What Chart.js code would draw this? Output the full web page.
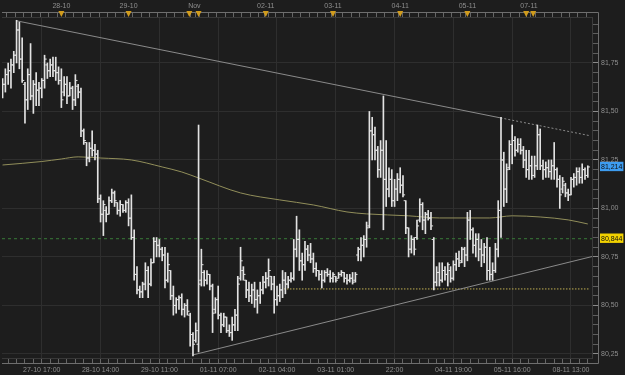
<!DOCTYPE html>
<html>
<head>
<meta charset="utf-8">
<script src="https://cdn.jsdelivr.net/npm/chart.js@4/dist/chart.umd.min.js"></script>
<style>
  html,body{margin:0;padding:0;background:#1d1d1d;}
  canvas{display:block;background:#1d1d1d;}
</style>
</head>
<body>
<canvas id="c" width="625" height="375"></canvas>
<script>
// ---- hourly OHLC bars (index = hour number from the left edge) ----
const highs = [
81.67,81.72,81.75,81.77,81.81,81.97,81.96,81.88,81.65,81.72,
81.85,81.66,81.70,81.65,81.67,81.79,81.75,81.77,81.78,81.78,
81.73,81.72,81.68,81.68,81.65,81.63,81.69,81.64,81.62,81.41,
81.34,81.34,81.40,81.33,81.30,81.07,81.04,81.01,81.06,81.10,
81.09,81.03,81.04,81.02,81.04,81.05,81.07,80.89,80.70,80.60,
80.62,80.72,80.70,80.74,80.85,80.85,80.84,80.80,80.80,80.77,
80.68,80.60,80.54,80.55,80.56,80.51,80.53,80.46,80.36,80.41,
81.43,80.79,80.68,80.68,80.66,80.61,80.54,80.60,80.46,80.46,
80.44,80.40,80.44,80.48,80.65,80.80,80.70,80.63,80.62,80.61,
80.62,80.58,80.62,80.65,80.67,80.74,80.65,80.65,80.60,80.61,
80.68,80.67,80.65,80.67,80.84,80.96,80.89,80.77,80.83,80.81,
80.82,80.77,80.72,80.68,80.68,80.68,80.69,80.68,80.67,80.65,
80.67,80.68,80.67,80.66,80.66,80.67,80.67,80.80,80.85,80.86,
80.93,81.50,81.47,81.42,81.32,81.35,81.58,81.35,81.21,81.20,
81.15,81.18,81.21,81.17,81.04,80.90,80.86,80.85,80.94,81.05,
81.03,80.98,80.99,80.98,80.85,80.70,80.72,80.72,80.70,80.72,
80.70,80.73,80.77,80.78,80.80,80.80,80.98,80.99,80.90,80.87,
80.87,80.84,80.82,80.85,80.80,80.72,80.82,81.04,81.47,81.29,
81.23,81.35,81.43,81.37,81.36,81.36,81.32,81.30,81.30,81.27,
81.27,81.43,81.41,81.25,81.24,81.25,81.25,81.34,81.21,81.17,
81.16,81.13,81.10,81.16,81.18,81.21,81.21,81.23,81.21,81.22];
const lows = [
81.57,81.60,81.64,81.62,81.70,81.75,81.72,81.65,81.44,81.51,
81.56,81.49,81.53,81.53,81.57,81.62,81.67,81.68,81.68,81.66,
81.64,81.52,81.58,81.54,81.58,81.51,81.53,81.57,81.37,81.33,
81.22,81.24,81.27,81.25,81.03,80.93,80.86,80.93,80.97,81.03,
81.01,80.97,80.96,80.98,80.98,80.91,80.84,80.63,80.56,80.54,
80.54,80.58,80.54,80.60,80.72,80.75,80.75,80.73,80.59,80.62,
80.53,80.45,80.46,80.48,80.45,80.44,80.45,80.29,80.24,80.31,
80.26,80.60,80.60,80.61,80.58,80.36,80.46,80.43,80.36,80.39,
80.36,80.34,80.32,80.37,80.37,80.63,80.63,80.54,80.52,80.51,
80.49,80.46,80.51,80.56,80.59,80.60,80.58,80.46,80.50,80.52,
80.54,80.56,80.59,80.62,80.63,80.75,80.68,80.63,80.68,80.73,
80.72,80.67,80.65,80.63,80.59,80.62,80.65,80.62,80.62,80.62,
80.64,80.65,80.62,80.61,80.62,80.61,80.62,80.73,80.73,80.75,
80.80,80.90,81.25,81.25,81.16,81.16,80.89,81.01,81.06,81.01,
81.01,81.04,81.08,81.06,80.87,80.75,80.77,80.76,80.84,80.93,
80.89,80.87,80.94,80.89,80.58,80.60,80.60,80.62,80.63,80.60,
80.62,80.63,80.68,80.70,80.72,80.70,80.73,80.84,80.77,80.75,
80.73,80.70,80.72,80.63,80.63,80.63,80.67,80.75,80.85,81.01,
81.03,81.20,81.23,81.27,81.29,81.28,81.21,81.16,81.15,81.15,
81.16,81.20,81.20,81.15,81.16,81.16,81.15,81.15,81.11,81.00,
81.08,81.06,81.04,81.07,81.11,81.12,81.13,81.13,81.15,81.16];
const opens = [
81.58,81.64,81.69,81.71,81.74,81.79,81.92,81.77,81.64,81.56,
81.69,81.58,81.64,81.61,81.62,81.66,81.74,81.71,81.74,81.71,
81.70,81.66,81.60,81.64,81.58,81.62,81.56,81.63,81.60,81.40,
81.34,81.26,81.31,81.30,81.28,81.05,80.97,80.99,80.97,81.04,
81.08,81.03,80.99,81.02,80.99,81.03,80.95,80.85,80.66,80.58,
80.57,80.61,80.68,80.61,80.72,80.83,80.81,80.79,80.76,80.63,
80.68,80.55,80.50,80.53,80.54,80.48,80.50,80.45,80.35,80.32,
80.30,80.63,80.67,80.63,80.66,80.60,80.48,80.53,80.45,80.40,
80.44,80.37,80.36,80.40,80.45,80.64,80.68,80.63,80.58,80.55,
80.58,80.53,80.55,80.58,80.62,80.64,80.65,80.61,80.53,80.55,
80.58,80.63,80.61,80.63,80.64,80.79,80.84,80.73,80.71,80.79,
80.76,80.74,80.69,80.68,80.66,80.63,80.67,80.66,80.64,80.65,
80.64,80.66,80.67,80.64,80.63,80.64,80.63,80.76,80.79,80.81,
80.84,80.91,81.40,81.38,81.30,81.20,81.30,81.15,81.10,81.15,
81.04,81.10,81.15,81.12,81.04,80.90,80.79,80.84,80.85,80.94,
81.02,80.94,80.97,80.95,80.84,80.62,80.67,80.63,80.68,80.66,
80.68,80.64,80.71,80.74,80.73,80.79,80.76,80.94,80.89,80.81,
80.84,80.79,80.76,80.80,80.68,80.66,80.68,80.79,80.99,81.25,
81.10,81.21,81.33,81.35,81.30,81.33,81.30,81.25,81.20,81.22,
81.17,81.22,81.38,81.22,81.20,81.21,81.19,81.22,81.20,81.15,
81.10,81.12,81.08,81.07,81.15,81.16,81.19,81.16,81.20,81.17];
const closes = [
81.64,81.69,81.71,81.74,81.79,81.92,81.77,81.66,81.56,81.69,
81.58,81.64,81.61,81.62,81.66,81.77,81.71,81.74,81.71,81.70,
81.66,81.56,81.64,81.58,81.62,81.56,81.66,81.60,81.40,81.35,
81.26,81.31,81.30,81.28,81.05,80.97,81.02,80.97,81.04,81.08,
81.04,80.99,81.02,80.99,81.03,80.95,80.85,80.66,80.58,80.57,
80.61,80.68,80.61,80.72,80.83,80.81,80.79,80.76,80.63,80.71,
80.55,80.50,80.53,80.54,80.48,80.50,80.47,80.35,80.30,80.37,
80.61,80.71,80.63,80.66,80.60,80.46,80.53,80.45,80.40,80.44,
80.37,80.36,80.40,80.45,80.61,80.73,80.66,80.58,80.55,80.58,
80.53,80.55,80.58,80.62,80.64,80.68,80.61,80.53,80.55,80.58,
80.63,80.61,80.63,80.64,80.79,80.84,80.73,80.71,80.79,80.76,
80.74,80.69,80.68,80.66,80.63,80.67,80.66,80.64,80.66,80.63,
80.66,80.67,80.64,80.63,80.64,80.62,80.66,80.79,80.81,80.84,
80.90,81.40,81.38,81.30,81.20,81.30,81.15,81.10,81.15,81.04,
81.10,81.15,81.12,81.07,80.90,80.79,80.84,80.79,80.91,81.02,
80.94,80.97,80.95,80.91,80.62,80.67,80.63,80.68,80.66,80.71,
80.64,80.71,80.74,80.72,80.79,80.76,80.94,80.89,80.81,80.84,
80.79,80.76,80.80,80.68,80.66,80.68,80.79,80.99,81.25,81.10,
81.20,81.33,81.35,81.30,81.33,81.30,81.25,81.20,81.22,81.17,
81.22,81.38,81.22,81.20,81.21,81.19,81.22,81.20,81.15,81.07,
81.14,81.08,81.07,81.15,81.16,81.19,81.16,81.20,81.17,81.214];

// ---- moving average (read at sample bars) ----
const maIdx = [0,14,21,27,35,46,57,64,70,85,99,111,123,130,145,156,174,182,192,202,209];
const maVal = [81.224,81.242,81.255,81.266,81.260,81.250,81.214,81.188,81.157,81.080,81.044,81.018,80.982,80.972,80.962,80.951,80.951,80.962,80.956,80.941,80.920];

// ---- drawn objects ----
const trendDown = [[5.1,81.967],[177.8,81.467],[209.8,81.375]];
const trendUp = [[68,80.245],[210.5,80.752]];
const supportDotted = [[100.5,80.585],[209.8,80.585]];
const levelPrice = 80.844;
const lastPrice = 81.214;

// ---- axes ----
const bottomLabelIdx = [14,35,56,77,98,119,140,161,182,203];
const bottomLabels = ['27-10 17:00','28-10 14:00','29-10 11:00','01-11 07:00','02-11 04:00','03-11 01:00','22:00','04-11 19:00','05-11 16:00','08-11 13:00'];
const topLabelIdx = [21,45,68.5,94,118,142,166,188];
const topLabels = ['28-10','29-10','Nov','02-11','03-11','04-11','05-11','07-11'];
const markerIdx = [21,45,66.7,70,94,118,142,166,187,189.5];

const X_MIN = -0.2, X_MAX = 210.5, Y_MIN = 80.229, Y_MAX = 81.987;

const bottomTicks = [];
for (let i = 2; i <= 209; i += 3) bottomTicks.push(i);
const topTicksSet = new Set();
for (let i = 0; i <= 210; i += 3) topTicksSet.add(i);
topLabelIdx.forEach(v => topTicksSet.add(v));
const topTicks = [...topTicksSet].sort((a,b)=>a-b);
const yTicks = [];
for (let k = 0; k <= 34; k++) yTicks.push(+(80.25 + k*0.05).toFixed(2));
yTicks.push(levelPrice, lastPrice);
yTicks.sort((a,b)=>a-b);

const isMajorY = v => Math.abs(v*4 - Math.round(v*4)) < 1e-6;
const isSpecial = v => Math.abs(v-levelPrice) < 1e-6 || Math.abs(v-lastPrice) < 1e-6;

const FONT = {family:'Liberation Sans', size:7};
const TXT = '#8e8e8e';
const BARCOL = '#e2e2e2';
const RULER = '#6e6e6e';

// rulers around the plot and the orange day-separator markers on the top ruler
const rulerPlugin = {
  id:'ruler',
  afterDraw(chart){
    const {ctx, chartArea:ca, scales} = chart;
    const topY = Math.round(scales.x2.bottom - 5) + 0.5;
    const botY = Math.round(scales.x.top + 5) + 0.5;
    const rightX = Math.round(scales.y.left + 6) + 0.5;
    ctx.save();
    ctx.strokeStyle = RULER; ctx.lineWidth = 1;
    ctx.beginPath();
    ctx.moveTo(ca.left, topY); ctx.lineTo(rightX, topY);
    ctx.lineTo(rightX, botY); ctx.lineTo(ca.left, botY);
    ctx.stroke();
    ctx.fillStyle = '#d19c1d';
    markerIdx.forEach(v => {
      const px = scales.x2.getPixelForValue(v);
      ctx.beginPath();
      ctx.moveTo(px - 3, topY - 1.5);
      ctx.lineTo(px + 3, topY - 1.5);
      ctx.lineTo(px, topY + 4.5);
      ctx.closePath();
      ctx.fill();
    });
    ctx.restore();
  }
};

const toPts = arr => arr.map(p => ({x:p[0], y:p[1]}));

new Chart(document.getElementById('c'), {
  type: 'bar',
  data: {
    datasets: [
      {type:'bar', data: highs.map((h,i)=>({x:i, y:[lows[i], h]})), backgroundColor: BARCOL, barThickness: 1, grouped:false, order:0},
      {type:'line', data: opens.map((v,i)=>({x:i-0.4, y:v})), showLine:false, pointStyle:'line', pointRadius:1, pointBorderWidth:1, pointBorderColor:BARCOL, pointHoverRadius:0, order:0},
      {type:'line', data: closes.map((v,i)=>({x:i+0.4, y:v})), showLine:false, pointStyle:'line', pointRadius:1, pointBorderWidth:1, pointBorderColor:BARCOL, pointHoverRadius:0, order:0},
      {type:'line', data: maIdx.map((x,k)=>({x, y:maVal[k]})), borderColor:'#918e5a', borderWidth:1, pointRadius:0, cubicInterpolationMode:'monotone', order:5},
      {type:'line', data: toPts(trendDown), borderColor:'#8a8a8a', borderWidth:1, pointRadius:0,
        segment:{borderDash: ctx => ctx.p0DataIndex === 1 ? [2,2] : undefined}, order:4},
      {type:'line', data: toPts(trendUp), borderColor:'#8a8a8a', borderWidth:1, pointRadius:0, order:4},
      {type:'line', data: toPts(supportDotted), borderColor:'#bfae50', borderWidth:1, borderDash:[1.5,1.5], pointRadius:0, order:4},
      {type:'line', data: [{x:X_MIN, y:levelPrice},{x:X_MAX, y:levelPrice}], borderColor:'#387a38', borderWidth:1, borderDash:[3,3], pointRadius:0, order:6}
    ]
  },
  options: {
    responsive:false, maintainAspectRatio:false, animation:false, devicePixelRatio:1,
    events: [],
    layout:{padding:0},
    plugins:{legend:{display:false}, tooltip:{enabled:false}},
    scales:{
      x:{
        type:'linear', position:'bottom', min:X_MIN, max:X_MAX, offset:false,
        afterBuildTicks: s => { s.ticks = bottomTicks.map(v=>({value:v})); },
        afterFit: s => { s.height = 17; },
        ticks:{autoSkip:false, maxRotation:0, minRotation:0, color:TXT, font:FONT, padding:3,
          callback: v => { const k = bottomLabelIdx.indexOf(v); return k >= 0 ? bottomLabels[k] : ''; }},
        grid:{offset:false, tickLength:5, tickColor:'#666',
          color: ctx => (ctx.tick && bottomLabelIdx.includes(ctx.tick.value)) ? '#2e2e2e' : 'rgba(0,0,0,0)'},
        border:{color:'#383838'}
      },
      x2:{
        type:'linear', position:'top', min:X_MIN, max:X_MAX, offset:false,
        afterBuildTicks: s => { s.ticks = topTicks.map(v=>({value:v})); },
        afterFit: s => { s.height = 17; },
        ticks:{autoSkip:false, maxRotation:0, minRotation:0, color:TXT, font:FONT, padding:2,
          callback: v => { const k = topLabelIdx.indexOf(v); return k >= 0 ? topLabels[k] : ''; }},
        grid:{drawOnChartArea:false, tickLength:5, tickColor:'#666'},
        border:{color:'#383838'}
      },
      y:{
        type:'linear', position:'right', min:Y_MIN, max:Y_MAX,
        afterBuildTicks: s => { s.ticks = yTicks.map(v=>({value:v})); },
        afterFit: s => { s.width = 33; },
        ticks:{autoSkip:false, font:FONT, padding:3,
          color: ctx => isSpecial(ctx.tick.value) ? '#101010' : TXT,
          showLabelBackdrop: ctx => isSpecial(ctx.tick.value),
          backdropColor: ctx => Math.abs(ctx.tick.value-lastPrice) < 1e-6 ? '#3d9cf0' : '#f2d200',
          backdropPadding:{left:1, right:1, top:1, bottom:0},
          callback: v => isSpecial(v) ? v.toFixed(3).replace('.',',') : (isMajorY(v) ? v.toFixed(2).replace('.',',') : '')},
        grid:{tickLength:6,
          color: ctx => (ctx.tick && isMajorY(ctx.tick.value)) ? '#2e2e2e' : 'rgba(0,0,0,0)',
          tickColor: ctx => (ctx.tick && isSpecial(ctx.tick.value)) ? 'rgba(0,0,0,0)' : (ctx.tick && isMajorY(ctx.tick.value) ? '#8a8a8a' : '#5e5e5e')},
        border:{color:'#3c3c3c'}
      }
    }
  },
  plugins:[rulerPlugin]
});
</script>
</body>
</html>
